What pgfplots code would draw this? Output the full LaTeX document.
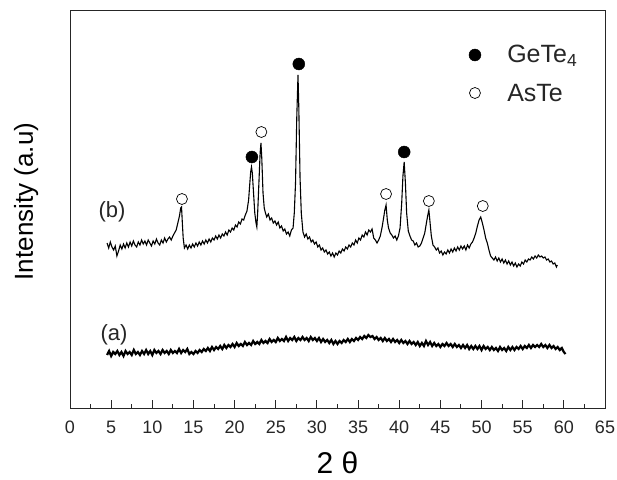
\documentclass[border=0pt]{standalone}
\usepackage{fontspec}
\setmainfont{Liberation Sans}
\usepackage{pgfplots}
\pgfplotsset{compat=1.18}

% XRD pattern (b): 2theta, intensity (arb.)
\pgfplotstableread{
x y
4.5 165
4.7 160
4.9 166
5.1 161
5.3 158
5.5 162
5.7 152
5.9 157
6.1 163
6.3 159
6.5 164
6.7 160
6.9 165
7.1 161
7.3 166
7.5 162
7.7 167
7.9 163
8.1 161
8.3 166
8.5 163
8.7 168
8.9 164
9.1 167
9.3 163
9.5 168
9.7 165
9.9 162
10.1 167
10.3 164
10.5 169
10.7 165
10.9 163
11.1 168
11.3 165
11.5 170
11.7 166
11.9 169
12.1 171
12.3 168
12.5 172
12.7 175
12.9 178
13.1 185
13.3 192
13.45 200
13.55 201
13.65 185
13.75 170
13.9 160
14.1 163
14.3 159
14.5 163
14.7 160
14.9 164
15.1 161
15.3 165
15.5 162
15.7 166
15.9 163
16.1 167
16.3 164
16.5 168
16.7 165
16.9 169
17.1 166
17.3 170
17.5 168
17.7 172
17.9 169
18.1 173
18.3 170
18.5 174
18.7 172
18.9 176
19.1 173
19.3 178
19.5 176
19.7 180
19.9 178
20.1 183
20.3 181
20.5 186
20.7 184
20.9 189
21.1 188
21.3 193
21.5 197
21.7 208
21.85 225
21.95 236
22.05 241
22.15 235
22.3 215
22.45 195
22.6 185
22.7 181
22.8 195
22.95 225
23.1 255
23.2 265
23.3 250
23.45 215
23.6 200
23.75 195
23.9 191
24.1 194
24.3 188
24.5 190
24.7 185
24.9 187
25.1 183
25.3 186
25.5 180
25.7 182
25.9 177
26.1 179
26.3 174
26.5 176
26.7 172
26.9 178
27.1 180
27.25 195
27.4 225
27.55 290
27.7 333
27.8 300
27.95 230
28.1 195
28.3 176
28.5 171
28.7 174
28.9 169
29.1 171
29.3 166
29.5 168
29.7 164
29.9 166
30.1 161
30.3 163
30.5 158
30.7 160
30.9 156
31.1 158
31.3 154
31.5 156
31.7 152
31.9 155
32.1 151
32.3 155
32.5 153
32.7 157
32.9 155
33.1 159
33.3 157
33.5 161
33.7 159
33.9 163
34.1 161
34.3 165
34.5 163
34.7 168
34.9 165
35.1 170
35.3 168
35.5 173
35.7 171
35.9 176
36.1 173
36.3 178
36.5 176
36.7 179
36.9 170
37.1 168
37.3 165
37.5 168
37.7 172
37.9 180
38.1 190
38.25 198
38.4 203
38.55 188
38.7 180
38.9 175
39.1 173
39.3 170
39.5 172
39.7 168
39.9 172
40.1 180
40.3 205
40.45 232
40.6 246
40.75 225
40.9 195
41.1 177
41.3 172
41.5 168
41.7 167
41.9 163
42.1 165
42.3 161
42.5 162
42.7 165
42.9 170
43.1 175
43.3 185
43.45 192
43.6 198
43.75 185
43.9 172
44.1 163
44.3 161
44.5 158
44.7 160
44.9 155
45.1 157
45.3 153
45.5 156
45.7 154
45.9 158
46.1 155
46.3 159
46.5 156
46.7 160
46.9 157
47.1 161
47.3 158
47.5 162
47.7 159
47.9 162
48.1 158
48.3 163
48.5 160
48.7 164
48.9 166
49.1 170
49.3 175
49.5 182
49.7 188
49.9 191
50.1 185
50.3 178
50.5 170
50.7 165
50.9 158
51.1 152
51.3 150
51.5 148
51.7 151
51.9 147
52.1 150
52.3 146
52.5 149
52.7 145
52.9 148
53.1 144
53.3 147
53.5 143
53.7 146
53.9 142
54.1 145
54.3 141
54.5 144
54.7 142
54.9 146
55.1 144
55.3 148
55.5 146
55.7 149
55.9 148
56.1 151
56.3 149
56.5 152
56.7 150
56.9 153
57.1 151
57.3 152
57.5 150
57.7 151
57.9 148
58.1 149
58.3 146
58.5 147
58.7 144
58.9 145
59.1 141
59.2 143
}\curveb

% XRD pattern (a)
\pgfplotstableread{
x y
4.50 53
4.75 57
5.00 52
5.25 56
5.50 54
5.75 57
6.00 53
6.25 56
6.50 52
6.75 57
7.00 54
7.25 56
7.50 53
7.75 58
8.00 54
8.25 56
8.50 53
8.75 57
9.00 54
9.25 58
9.50 54
9.75 57
10.00 53
10.25 58
10.50 55
10.75 57
11.00 54
11.25 58
11.50 55
11.75 57
12.00 54
12.25 58
12.50 55
12.75 57
13.00 55
13.25 59
13.50 55
13.75 58
14.00 56
14.25 59
14.50 54
14.75 56
15.00 54
15.25 57
15.50 55
15.75 58
16.00 56
16.25 59
16.50 57
16.75 60
17.00 57
17.25 61
17.50 58
17.75 61
18.00 59
18.25 62
18.50 59
18.75 63
19.00 60
19.25 63
19.50 61
19.75 64
20.00 61
20.25 65
20.50 62
20.75 64
21.00 62
21.25 66
21.50 63
21.75 65
22.00 63
22.25 67
22.50 64
22.75 66
23.00 64
23.25 68
23.50 65
23.75 67
24.00 65
24.25 69
24.50 66
24.75 68
25.00 66
25.25 70
25.50 67
25.75 69
26.00 67
26.25 71
26.50 67
26.75 70
27.00 68
27.25 71
27.50 67
27.75 70
28.00 68
28.25 71
28.50 68
28.75 70
29.00 67
29.25 71
29.50 68
29.75 70
30.00 67
30.25 70
30.50 66
30.75 69
31.00 66
31.25 68
31.50 65
31.75 68
32.00 64
32.25 67
32.50 64
32.75 67
33.00 65
33.25 68
33.50 66
33.75 69
34.00 66
34.25 69
34.50 67
34.75 70
35.00 68
35.25 71
35.50 69
35.75 72
36.00 70
36.25 73
36.50 71
36.75 72
37.00 69
37.25 71
37.50 68
37.75 70
38.00 67
38.25 70
38.50 67
38.75 69
39.00 66
39.25 69
39.50 66
39.75 68
40.00 65
40.25 68
40.50 65
40.75 67
41.00 64
41.25 67
41.50 64
41.75 66
42.00 63
42.25 66
42.50 62
42.75 65
43.00 62
43.25 67
43.50 63
43.75 66
44.00 62
44.25 65
44.50 62
44.75 64
45.00 61
45.25 64
45.50 62
45.75 65
46.00 62
46.25 64
46.50 61
46.75 64
47.00 61
47.25 63
47.50 60
47.75 63
48.00 60
48.25 63
48.50 59
48.75 62
49.00 59
49.25 62
49.50 59
49.75 62
50.00 58
50.25 62
50.50 59
50.75 61
51.00 58
51.25 61
51.50 58
51.75 60
52.00 57
52.25 61
52.50 58
52.75 60
53.00 57
53.25 61
53.50 58
53.75 61
54.00 58
54.25 61
54.50 59
54.75 62
55.00 59
55.25 62
55.50 60
55.75 63
56.00 60
56.25 63
56.50 61
56.75 63
57.00 61
57.25 64
57.50 61
57.75 63
58.00 60
58.25 63
58.50 60
58.75 62
59.00 59
59.25 61
59.50 58
59.75 60
60.00 56
60.20 54
}\curvea

\begin{document}
\begin{tikzpicture}
\useasboundingbox (-70pt,-71pt) rectangle (547pt,408pt);
\begin{axis}[
    scale only axis,
    width=535pt, height=397pt,
    xmin=0, xmax=65,
    ymin=0, ymax=397,
    xtick={0,5,...,65},
    minor x tick num=1,
    ytick=\empty,
    xtick pos=bottom,
    tick align=inside,
    major tick length=8pt,
    minor tick length=4pt,
    axis line style={line width=1pt, black!85},
    every tick/.style={line width=1pt, black!85},
    /pgf/number format/assume math mode=true,
    tick label style={font=\fontsize{18}{20}\selectfont, text=black!85},
    xticklabel style={anchor=base, yshift=-25pt},
    xlabel={2 θ},
    xlabel style={font=\fontsize{30}{34}\selectfont, inner sep=0pt, at={(axis description cs:0.5,0)}, anchor=center, yshift=-55pt},
    ylabel={Intensity (a.u)},
    ylabel style={font=\fontsize{26}{30}\selectfont, at={(axis description cs:-0.082,0.52)}, anchor=center},
]
\addplot[black, line width=1.1pt] table {\curveb};
\addplot[black, line width=2.2pt] table {\curvea};
% GeTe4 peaks and key mark
\addplot[only marks, mark=*, mark size=6pt, black] coordinates {
    (22.1,251) (27.8,344) (40.6,256) (49.2,353)
};
% AsTe peaks and key mark
\addplot[only marks, mark=o, mark size=5.5pt, black, line width=0.7pt] coordinates {
    (13.6,209) (23.25,276) (38.4,214) (43.6,207) (50.15,202) (49.2,315)
};
\node[font=\fontsize{25}{28}\selectfont, anchor=base west, inner sep=0pt, text=black!85] at (axis cs:53.1,345) {GeTe\textsubscript{4}};
\node[font=\fontsize{25}{28}\selectfont, anchor=base west, inner sep=0pt, text=black!85] at (axis cs:53.1,306) {AsTe};
\node[font=\fontsize{22}{24}\selectfont, text=black!85] at (axis cs:5.1,196) {(b)};
\node[font=\fontsize{22}{24}\selectfont, text=black!85] at (axis cs:5.35,73) {(a)};
\end{axis}
\end{tikzpicture}
\end{document}
